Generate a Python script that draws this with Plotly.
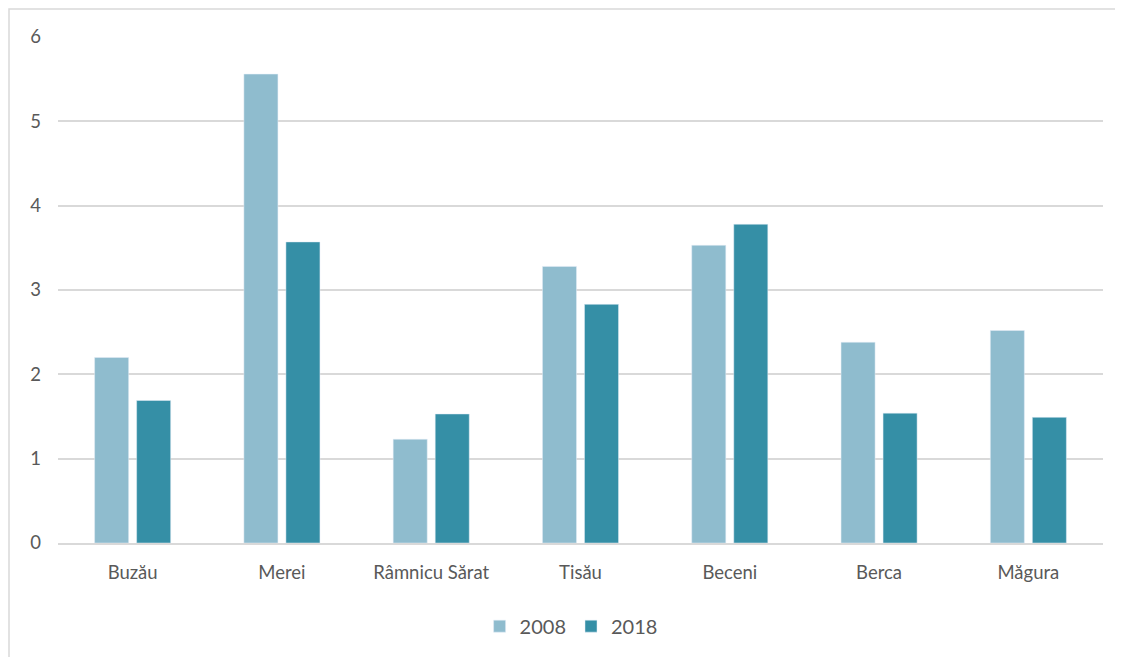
import plotly.graph_objects as go

categories = ["Buzău", "Merei", "Râmnicu Sărat", "Tisău", "Beceni", "Berca", "Măgura"]
values_2008 = [2.20, 5.56, 1.23, 3.28, 3.53, 2.38, 2.52]
values_2018 = [1.69, 3.57, 1.53, 2.83, 3.78, 1.54, 1.49]
y_ticks = [0, 1, 2, 3, 4, 5, 6]

# page has an 8px body margin; figure coordinates are offset accordingly
W, H = 1115, 649
L, R, T, B = 50, 20, 29, 113
pw, ph = W - L - R, H - T - B

fig = go.Figure()
fig.add_trace(go.Bar(x=categories, y=values_2008, name="2008", marker_color="#8FBCCE"))
fig.add_trace(go.Bar(x=categories, y=values_2018, name="2018", marker_color="#358FA6"))

font = dict(family="Lato, Open Sans, sans-serif", size=18.5, color="#595959")

fig.update_layout(
    width=W, height=H,
    margin=dict(l=L, r=R, t=T, b=B),
    paper_bgcolor="white", plot_bgcolor="white",
    barmode="group", bargap=0.437, bargroupgap=0.19,
    font=font,
    showlegend=True,
    legend=dict(orientation="h", x=0.491, xanchor="center", y=-0.162, yanchor="middle",
                font=dict(family="Lato, Open Sans, sans-serif", size=20, color="#595959"),
                itemwidth=30, tracegroupgap=0),
    xaxis=dict(showgrid=False, showline=True, linecolor="#D9D9D9", linewidth=1.5,
               ticks="", tickfont=font, ticklabelstandoff=12),
    yaxis=dict(range=[0, 6], tickvals=y_ticks, showgrid=True, gridcolor="#D9D9D9", gridwidth=1.5,
               zeroline=False, showline=False, ticks="", tickfont=font, ticklabelstandoff=16),
    shapes=[dict(type="rect", xref="paper", yref="paper",
                 x0=(1 - L) / pw, x1=(W + 20 - L) / pw,
                 y0=-(H + 20 - T - ph) / ph, y1=(H - 1 - B) / ph,
                 line=dict(color="#D9D9D9", width=1.5), fillcolor="rgba(0,0,0,0)", layer="below")],
)

fig.write_html("out.html")
